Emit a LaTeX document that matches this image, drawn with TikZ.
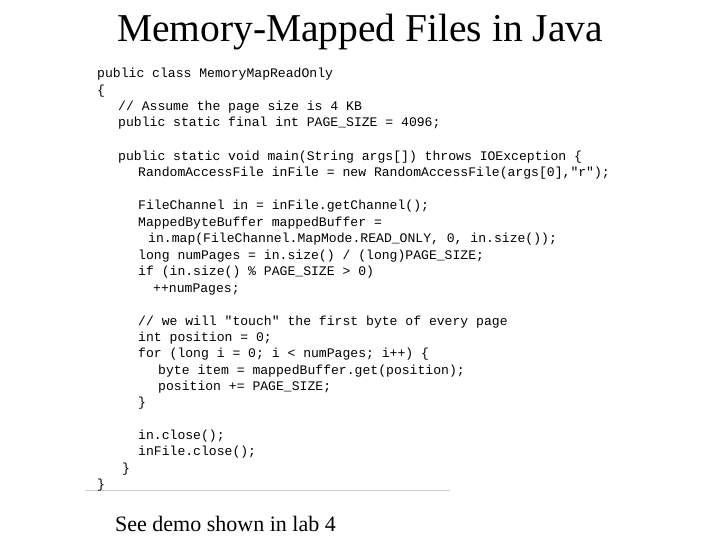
\documentclass[tikz,border=0pt]{standalone}
\usepackage{fontspec}
\setmainfont{Liberation Serif}
\newfontfamily\codefont{Liberation Mono}
\begin{document}
\begin{tikzpicture}[x=1pt,y=-1pt,
  code/.style={anchor=base west,inner sep=0pt,font=\codefont\fontsize{13.1}{15}\selectfont},
  title/.style={inner sep=0pt,font=\fontsize{39.5}{44}\selectfont},
  note/.style={anchor=base west,inner sep=0pt,font=\fontsize{22}{26}\selectfont}]
\useasboundingbox[fill=white] (0,0) rectangle (720,540);
\node[title] (t) at (360,32) {Memory-Mapped Files in Java};
\draw[gray!40,line width=0.8pt] (85,490) -- (450,490);
\node[code] (l1) at (97,78) {public class MemoryMapReadOnly};
\node[code] (l2) at (97,95) {\{};
\node[code] (l3) at (118,111) {// Assume the page size is 4 KB};
\node[code] (l4) at (118,127) {public static final int PAGE\_SIZE = 4096;};
\node[code] (l5) at (118,161) {public static void main(String args[]) throws IOException \{};
\node[code] (l6) at (138,177) {RandomAccessFile inFile = new RandomAccessFile(args[0],"r");};
\node[code] (l7) at (138,210) {FileChannel in = inFile.getChannel();};
\node[code] (l8) at (138,226) {MappedByteBuffer mappedBuffer =};
\node[code] (l9) at (148,243) {in.map(FileChannel.MapMode.READ\_ONLY, 0, in.size());};
\node[code] (l10) at (138,259) {long numPages = in.size() / (long)PAGE\_SIZE;};
\node[code] (l11) at (138,275) {if (in.size() \% PAGE\_SIZE > 0)};
\node[code] (l12) at (153,292) {++numPages;};
\node[code] (l13) at (138,325) {// we will "touch" the first byte of every page};
\node[code] (l14) at (138,341) {int position = 0;};
\node[code] (l15) at (138,357) {for (long i = 0; i < numPages; i++) \{};
\node[code] (l16) at (158,374) {byte item = mappedBuffer.get(position);};
\node[code] (l17) at (158,390) {position += PAGE\_SIZE;};
\node[code] (l18) at (138,406) {\}};
\node[code] (l19) at (138,439) {in.close();};
\node[code] (l20) at (138,455) {inFile.close();};
\node[code] (l21) at (122,472) {\}};
\node[code] (l22) at (97,488) {\}};
\node[note] (n) at (115,531) {See demo shown in lab 4};
\end{tikzpicture}
\end{document}
